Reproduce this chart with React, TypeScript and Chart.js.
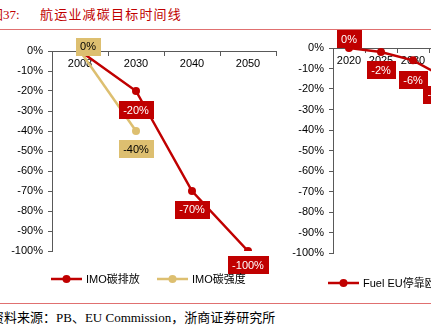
import React, { useEffect, useRef } from "react";
import { Chart, registerables } from "chart.js";

Chart.register(...registerables);

// ---------- data ----------
const imoYears = ["2008", "2030", "2040", "2050"];
const imoEmission = [0, -20, -70, -100];
const imoIntensity = [0, -40, null, null];
const imoEmissionLabel = "IMO碳排放";
const imoIntensityLabel = "IMO碳强度";

const fuelYears = ["2020", "2025", "2030", "2035", "2040", "2045", "2050"];
const fuelEU = [0, -2, -6, -14.5, -31, -62, -80];
const fuelLabel = "Fuel EU停靠欧盟港口船舶";

const yTicksMin = -100;
const yTicksMax = 0;
const yStep = 10;

// ---------- styles ----------
const RED = "#C00000";
const GOLD = "#DDBF70";
const AXIS = "#595959";
const FONT_FAMILY = "'Liberation Sans', 'Noto Sans CJK SC', sans-serif";

type LabelSet = { show: boolean[]; dx?: number[]; dy: number[]; bg: string; color: string };

function makeBoxLabels(sets: LabelSet[]) {
  return {
    id: "boxLabels",
    afterDatasetsDraw(chart: any) {
      const ctx = chart.ctx;
      sets.forEach((set, di) => {
        const meta = chart.getDatasetMeta(di);
        const data = chart.data.datasets[di].data;
        meta.data.forEach((pt: any, i: number) => {
          if (!set.show[i] || data[i] === null || data[i] === undefined) return;
          const text = data[i] + "%";
          ctx.save();
          ctx.font = "11px " + FONT_FAMILY;
          const w = ctx.measureText(text).width + 9;
          const h = 18;
          const cx = pt.x + (set.dx ? set.dx[i] : 0);
          const cy = pt.y + set.dy[i];
          ctx.fillStyle = set.bg;
          ctx.fillRect(Math.round(cx - w / 2), Math.round(cy - h / 2), Math.round(w), h);
          ctx.fillStyle = set.color;
          ctx.textAlign = "center";
          ctx.textBaseline = "middle";
          ctx.fillText(text, cx, cy + 0.5);
          ctx.restore();
        });
      });
    },
  };
}

function makeLineLegend(items: { x: number }[], y: number) {
  return {
    id: "lineLegend",
    afterDraw(chart: any) {
      const ctx = chart.ctx;
      chart.data.datasets.forEach((ds: any, i: number) => {
        const it = items[i];
        if (!it) return;
        const len = 31;
        ctx.save();
        ctx.strokeStyle = ds.borderColor;
        ctx.lineWidth = 2.5;
        ctx.beginPath();
        ctx.moveTo(it.x, y);
        ctx.lineTo(it.x + len, y);
        ctx.stroke();
        ctx.fillStyle = ds.borderColor;
        ctx.beginPath();
        ctx.arc(it.x + len / 2, y, 4, 0, Math.PI * 2);
        ctx.fill();
        ctx.fillStyle = "#000";
        ctx.font = "11px " + FONT_FAMILY;
        ctx.textBaseline = "middle";
        ctx.textAlign = "left";
        ctx.fillText(ds.label, it.x + len + 4, y + 0.5);
        ctx.restore();
      });
    },
  };
}

function makeScales(yAxisWidth: number) {
  return {
    x: {
      type: "category" as const,
      position: { y: 0 } as any,
      offset: true,
      afterFit: (s: any) => {
        s.height = 0;
      },
      grid: { drawOnChartArea: false, drawTicks: true, tickLength: 4, color: AXIS, offset: true },
      border: { display: true, color: AXIS, width: 1 },
      ticks: {
        color: "#000",
        font: { family: FONT_FAMILY, size: 11 },
        padding: 2,
        maxRotation: 0,
        autoSkip: false,
      },
    },
    y: {
      min: yTicksMin,
      max: yTicksMax,
      afterFit: (s: any) => {
        s.width = yAxisWidth;
      },
      grid: { drawOnChartArea: false, drawTicks: true, tickLength: 4, color: AXIS },
      border: { display: true, color: AXIS, width: 1 },
      ticks: {
        stepSize: yStep,
        color: "#000",
        padding: 5,
        font: { family: FONT_FAMILY, size: 11 },
        callback: (v: any) => v + "%",
      },
    },
  };
}

function lineDataset(label: string, data: (number | null)[], color: string) {
  return {
    label,
    data,
    borderColor: color,
    backgroundColor: color,
    pointBackgroundColor: color,
    pointBorderColor: color,
    pointRadius: 4,
    pointBorderWidth: 0,
    borderWidth: 2.5,
    tension: 0,
    spanGaps: false,
  };
}

export default function App() {
  const leftRef = useRef<HTMLCanvasElement>(null);
  const rightRef = useRef<HTMLCanvasElement>(null);

  useEffect(() => {
    document.body.style.margin = "0";
    const left = new Chart(leftRef.current as HTMLCanvasElement, {
      type: "line",
      data: {
        labels: imoYears,
        datasets: [
          lineDataset(imoEmissionLabel, imoEmission, RED),
          lineDataset(imoIntensityLabel, imoIntensity, GOLD),
        ],
      },
      options: {
        responsive: false,
        animation: false,
        devicePixelRatio: 1,
        layout: { padding: { left: 0, top: 21, right: 24, bottom: 49 } },
        plugins: { legend: { display: false }, tooltip: { enabled: false } },
        scales: makeScales(52) as any,
      },
      plugins: [
        makeBoxLabels([
          { show: [false, true, true, true], dy: [0, 19, 18.5, 14], bg: RED, color: "#fff" },
          { show: [true, true, false, false], dx: [8, 0, 0, 0], dy: [-4.5, 18, 0, 0], bg: GOLD, color: "#000" },
        ]),
        makeLineLegend([{ x: 51 }, { x: 157 }], 249),
      ],
    });

    const right = new Chart(rightRef.current as HTMLCanvasElement, {
      type: "line",
      data: {
        labels: fuelYears,
        datasets: [lineDataset(fuelLabel, fuelEU, RED)],
      },
      options: {
        responsive: false,
        animation: false,
        devicePixelRatio: 1,
        layout: { padding: { left: 0, top: 18, right: 23, bottom: 47 } },
        plugins: { legend: { display: false }, tooltip: { enabled: false } },
        scales: makeScales(53) as any,
      },
      plugins: [
        makeBoxLabels([
          { show: [true, true, true, true, true, true, true], dy: [-9, 18, 20, 17, 17, 17, 17], bg: RED, color: "#fff" },
        ]),
        makeLineLegend([{ x: 48 }], 253),
      ],
    });

    return () => {
      left.destroy();
      right.destroy();
    };
  }, []);

  return (
    <div
      style={{
        position: "fixed",
        left: 0,
        top: 0,
        width: 431,
        height: 330,
        overflow: "hidden",
        background: "#fff",
      }}
    >
      <div
        style={{
          position: "absolute",
          left: -10,
          top: 6,
          whiteSpace: "nowrap",
          color: RED,
          fontSize: 13,
          lineHeight: "18px",
          fontFamily: "'Liberation Serif', 'Noto Sans CJK SC', serif",
        }}
      >
        图37:
      </div>
      <div
        style={{
          position: "absolute",
          left: 40,
          top: 6,
          whiteSpace: "nowrap",
          color: RED,
          fontSize: 13,
          lineHeight: "18px",
          letterSpacing: "1.2px",
          fontFamily: "'Liberation Serif', 'Noto Sans CJK SC', serif",
        }}
      >
        航运业减碳目标时间线
      </div>
      <div style={{ position: "absolute", left: 0, top: 29, width: 431, height: 1, background: "#E07070" }} />
      <canvas
        ref={leftRef}
        width={300}
        height={270}
        style={{ position: "absolute", left: 0, top: 30, display: "block" }}
      />
      <canvas
        ref={rightRef}
        width={300}
        height={270}
        style={{ position: "absolute", left: 280, top: 30, display: "block" }}
      />
      <div style={{ position: "absolute", left: 0, top: 303, width: 431, height: 1, background: "#E07070" }} />
      <div
        style={{
          position: "absolute",
          left: -9,
          top: 309,
          whiteSpace: "nowrap",
          color: "#000",
          fontSize: 13,
          lineHeight: "18px",
          fontFamily: "'Liberation Serif', 'Noto Sans CJK SC', serif",
        }}
      >
        资料来源：PB、EU Commission，浙商证券研究所
      </div>
    </div>
  );
}
